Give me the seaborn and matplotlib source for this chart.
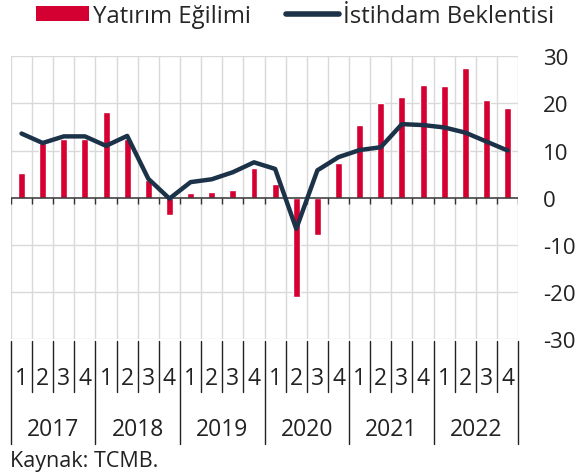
#!/usr/bin/env python3

import numpy as np
import pandas as pd
import seaborn as sns
from matplotlib import pyplot as plt
from matplotlib import transforms
from matplotlib.lines import Line2D
from matplotlib.patches import Patch

# Data (quarterly, 2017Q1 - 2022Q4)
years = ["2017", "2018", "2019", "2020", "2021", "2022"]
quarters = ["1", "2", "3", "4"]
yatirim = [5.2, 11.5, 12.5, 12.4, 18.2, 12.4, 3.7, -3.6,
           0.9, 1.3, 1.6, 6.3, 3.0, -21.1, -8.0, 7.3,
           15.4, 20.1, 21.4, 23.8, 23.6, 27.4, 20.8, 19.1]
istihdam = [13.6, 11.6, 13.0, 13.0, 11.0, 13.1, 4.0, -0.2,
            3.3, 3.9, 5.4, 7.5, 6.1, -6.6, 5.8, 8.6,
            10.1, 10.7, 15.6, 15.4, 14.9, 13.8, 11.9, 10.0]
y_ticks = [-30, -20, -10, 0, 10, 20, 30]

red = "#D50032"
navy = "#1C3248"
grid_gray = "#D9D9D9"
dark = "#222222"

sns.set_theme(style="white")
plt.rcParams["font.family"] = ["Open Sans", "DejaVu Sans"]
plt.rcParams["axes.unicode_minus"] = False

df = pd.DataFrame({
    "pos": np.arange(len(yatirim)),
    "quarter": quarters * len(years),
    "year": np.repeat(years, len(quarters)),
    "yatirim": yatirim,
    "istihdam": istihdam,
})

fig = plt.figure(figsize=(5.77, 4.77), dpi=100)
ax = fig.add_axes([0.019, 0.287, 0.879, 0.593])

# Bars and line
sns.barplot(data=df, x="pos", y="yatirim", native_scale=True, width=0.33,
            color=red, saturation=1, ax=ax, zorder=2)
sns.lineplot(data=df, x="pos", y="istihdam", color=navy, linewidth=3.2,
             solid_capstyle="round", solid_joinstyle="round", ax=ax, zorder=4)

n = len(df)
bounds = np.arange(n + 1) - 0.5

# Grid
ax.vlines(bounds, y_ticks[0], y_ticks[-1], color=grid_gray, lw=1, zorder=0)
for y in y_ticks:
    if y != 0:
        ax.axhline(y, color=grid_gray, lw=1, zorder=0)
ax.axhline(0, color="#333333", lw=1.1, zorder=3)
ax.vlines(bounds, -1.4, 0, color="#333333", lw=1, zorder=3)

ax.set_xlim(bounds[0], bounds[-1])
ax.set_ylim(y_ticks[0], y_ticks[-1])
ax.set_yticks(y_ticks)
ax.yaxis.tick_right()
ax.tick_params(axis="y", length=0, pad=18, labelsize=16, colors=dark)
ax.set_xticks([])
ax.set_xlabel("")
ax.set_ylabel("")
for s in ax.spines.values():
    s.set_visible(False)

# Two-level category axis
trans = transforms.blended_transform_factory(ax.transData, ax.transAxes)
for _, row in df.iterrows():
    ax.text(row["pos"], -0.138, row["quarter"], transform=trans,
            ha="center", va="center", fontsize=16.5, color=dark)
for k, yr in enumerate(years):
    ax.text(k * 4 + 1.5, -0.318, yr, transform=trans,
            ha="center", va="center", fontsize=16.5, color=dark)
for i, b in enumerate(bounds):
    bottom = -0.371 if i % 4 == 0 else -0.188
    ax.plot([b, b], [-0.008, bottom], transform=trans, color=dark,
            lw=1, clip_on=False)

# Legend
handles = [
    Patch(facecolor=red, edgecolor="none"),
    Line2D([0], [0], color=navy, lw=4, solid_capstyle="round"),
]
fig.legend(handles, ["Yatırım Eğilimi", "İstihdam Beklentisi"],
           loc="center", bbox_to_anchor=(0.512, 0.964), ncol=2,
           frameon=False, fontsize=17.2, handlelength=2.2,
           handleheight=0.59, handletextpad=0.2, columnspacing=1.45)

fig.text(0.017, 0.033, "Kaynak: TCMB.", fontsize=15.5, va="center",
         ha="left", color=dark)

fig.savefig("out.png", dpi=100)
plt.close()
